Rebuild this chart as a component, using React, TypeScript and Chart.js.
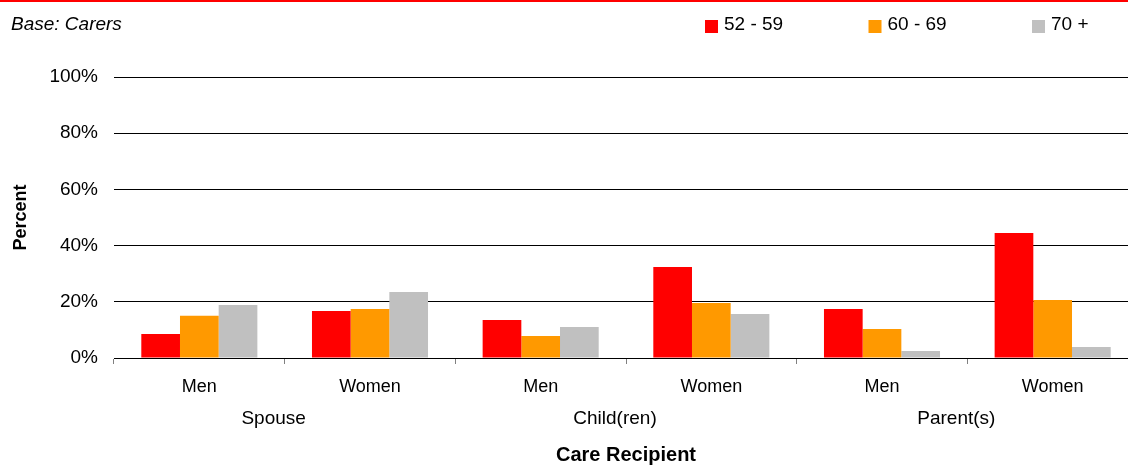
import React, { useEffect, useRef } from "react";
import { Chart, registerables } from "chart.js";

Chart.register(...registerables);

// Care recipient groups and the gender split under each
const groupLabels = ["Spouse", "Child(ren)", "Parent(s)"];
const genderLabels = ["Men", "Women", "Men", "Women", "Men", "Women"];

// Percent of carers in each age band
const ageBands = ["52 - 59", "60 - 69", "70 +"];
const age52to59 = [8.5, 16.7, 13.5, 32.4, 17.4, 44.5];
const age60to69 = [15.0, 17.4, 7.8, 19.6, 10.3, 20.6];
const age70plus = [18.9, 23.5, 11.0, 15.7, 2.5, 3.9];

const yTicks = [0, 20, 40, 60, 80, 100];

const COLORS = ["#FF0000", "#FF9900", "#C0C0C0"];
const FONT = "'Liberation Sans', Arial, Helvetica, sans-serif";

const W = 1140;
const H = 467;
const PAD_LEFT = 6;

// Red rule, base note and the legend across the top of the canvas
const headerPlugin = {
  id: "header",
  afterDraw(chart: any) {
    const { ctx } = chart;
    ctx.save();
    ctx.fillStyle = "#FF0000";
    ctx.fillRect(0, 0, chart.width, 2);

    ctx.fillStyle = "#000";
    ctx.font = `italic 19px ${FONT}`;
    ctx.textBaseline = "middle";
    ctx.textAlign = "left";
    ctx.fillText("Base: Carers", 11, 25);

    ctx.font = `19px ${FONT}`;
    chart.data.datasets.forEach((ds: any, i: number) => {
      const x = 705 + i * 163.5;
      ctx.fillStyle = ds.backgroundColor;
      ctx.fillRect(x, 20, 13, 13);
      ctx.fillStyle = "#000";
      ctx.fillText(ds.label, x + 19, 25);
    });
    ctx.restore();
  },
};

export default function App() {
  const ref = useRef<HTMLCanvasElement | null>(null);

  useEffect(() => {
    if (!ref.current) return;
    const seriesValues = [age52to59, age60to69, age70plus];
    const chart = new Chart(ref.current, {
      type: "bar",
      data: {
        labels: genderLabels,
        datasets: ageBands.map((label, i) => ({
          label,
          data: seriesValues[i],
          backgroundColor: COLORS[i],
          borderWidth: 0,
          categoryPercentage: 0.68,
          barPercentage: 1.0,
          xAxisID: "x",
          yAxisID: "y",
        })),
      },
      options: {
        responsive: false,
        animation: false,
        devicePixelRatio: 1,
        layout: { padding: { top: 77, right: 2, bottom: 0, left: PAD_LEFT } },
        plugins: {
          legend: { display: false },
          tooltip: { enabled: false },
        },
        scales: {
          x: {
            type: "category",
            position: "bottom",
            weight: 0,
            offset: true,
            afterFit: (scale: any) => {
              scale.height = 40;
            },
            grid: {
              display: true,
              drawOnChartArea: false,
              drawTicks: true,
              tickLength: 6,
              color: "#808080",
              offset: true,
            },
            border: { display: true, color: "#000", width: 1 },
            ticks: {
              color: "#000",
              font: { family: FONT, size: 18 },
              padding: 12,
              maxRotation: 0,
              autoSkip: false,
            },
          },
          x2: {
            type: "category",
            position: "bottom",
            weight: 1,
            labels: groupLabels,
            offset: true,
            afterFit: (scale: any) => {
              scale.height = 69;
            },
            grid: { display: false, drawTicks: false },
            border: { display: false },
            ticks: {
              color: "#000",
              font: { family: FONT, size: 19 },
              padding: 9,
              labelOffset: -11,
              maxRotation: 0,
              autoSkip: false,
            },
            title: {
              display: true,
              text: "Care Recipient",
              color: "#000",
              font: { family: FONT, size: 20, weight: "bold" },
              padding: { top: 17, bottom: 0 },
            },
          },
          y: {
            min: 0,
            max: 100,
            afterBuildTicks: (scale: any) => {
              scale.ticks = yTicks.map((v) => ({ value: v }));
            },
            afterFit: (scale: any) => {
              scale.width = 114 - PAD_LEFT;
            },
            grid: { color: "#000", lineWidth: 1, drawTicks: false },
            border: { display: false },
            ticks: {
              color: "#000",
              font: { family: FONT, size: 19 },
              padding: 16,
              callback: (v: any) => `${v}%`,
            },
            title: {
              display: true,
              text: "Percent",
              color: "#000",
              font: { family: FONT, size: 18, weight: "bold" },
              padding: { top: 4, bottom: 0 },
            },
          },
        },
      },
      plugins: [headerPlugin],
    });
    return () => chart.destroy();
  }, []);

  return (
    <div
      style={{
        position: "fixed",
        left: 0,
        top: 0,
        width: 1128,
        height: H,
        overflow: "hidden",
        background: "#fff",
      }}
    >
      <canvas
        ref={ref}
        width={W}
        height={H}
        style={{ display: "block", width: W, height: H }}
      />
    </div>
  );
}
